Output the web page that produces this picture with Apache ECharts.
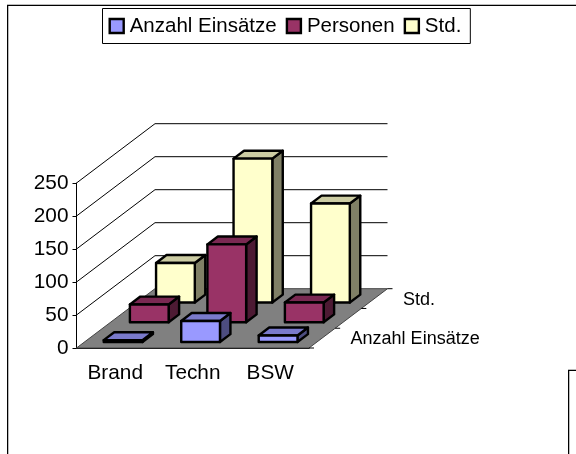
<!DOCTYPE html>
<html>
<head>
<meta charset="utf-8">
<style>
  html, body { margin: 0; padding: 0; background: #fff; }
  #chart { width: 576px; height: 454px; }
</style>
<script src="https://cdn.jsdelivr.net/npm/echarts@6/dist/echarts.min.js"></script>
</head>
<body>
<div id="chart"></div>
<script>
const categories = ['Brand', 'Techn', 'BSW']
const anzahlEinsaetze = [3, 32, 10]
const personen = [27, 118, 30]
const std = [60, 218, 150]
const gridValues = [50, 100, 150, 200, 250]
const depthLabels = ['Anzahl Einsätze', '', 'Std.']

const font = '"Liberation Sans", Arial, sans-serif'
// 3d look: how far the floor goes back on screen
const DEPTH_X = 78.5
const DEPTH_Y = 59.3
const SLOTS = 3

const chart = echarts.init(document.getElementById('chart'))

function line(x1, y1, x2, y2, color) {
  return {
    type: 'line',
    shape: { x1, y1, x2, y2 },
    style: { stroke: color || '#000', lineWidth: 1 }
  }
}

// floor, wall lines and depth axis
function renderBack(params, api) {
  if (params.dataIndex > 0) return null
  const children = []
  const left = api.coord([0, 0])[0] - api.size([1, 0])[0] / 2
  const right = left + api.size([1, 0])[0] * categories.length
  const base = api.coord([0, 0])[1]
  children.push({
    type: 'polygon',
    shape: {
      points: [
        [left, base],
        [right, base],
        [right + DEPTH_X, base - DEPTH_Y],
        [left + DEPTH_X, base - DEPTH_Y]
      ]
    },
    style: { fill: '#808080', stroke: '#444', lineWidth: 1 }
  })
  gridValues.forEach((v) => {
    const y = api.coord([0, v])[1]
    children.push(line(left, y, left + DEPTH_X, y - DEPTH_Y))
    children.push(line(left + DEPTH_X, y - DEPTH_Y, right + DEPTH_X, y - DEPTH_Y))
  })
  for (let i = 0; i <= SLOTS; i++) {
    const x = right + (DEPTH_X / SLOTS) * i
    const y = base - (DEPTH_Y / SLOTS) * i
    children.push(line(x, y, x + 5, y))
  }
  depthLabels.forEach((label, i) => {
    children.push({
      type: 'text',
      style: {
        x: right + (DEPTH_X / SLOTS) * (i + 0.5) + 28.5,
        y: base - (DEPTH_Y / SLOTS) * (i + 0.5) + 1,
        text: label,
        font: '18px ' + font,
        fill: '#000',
        verticalAlign: 'middle'
      }
    })
  })
  return { type: 'group', children }
}

// one box, slot = how far back the series sits
function renderBar(slot, front, top, side) {
  return function (params, api) {
    const band = api.size([1, 0])[0]
    const p0 = api.coord([api.value(0), 0])
    const p1 = api.coord([api.value(0), api.value(1)])
    const slotX = DEPTH_X / SLOTS
    const slotY = DEPTH_Y / SLOTS
    const w = band * 0.5
    const dx = slotX * 0.4
    const dy = slotY * 0.4
    const cx = p0[0] + slotX * (slot + 0.5) - dx / 2
    const by = p0[1] - slotY * (slot + 0.5) + dy / 2
    const ty = by - (p0[1] - p1[1])
    const x0 = cx - w / 2
    const x1 = cx + w / 2
    const stroke = { stroke: '#000', lineWidth: 2.4, lineJoin: 'round' }
    return {
      type: 'group',
      children: [
        {
          type: 'polygon',
          shape: { points: [[x1, by], [x1 + dx, by - dy], [x1 + dx, ty - dy], [x1, ty]] },
          style: { fill: side, ...stroke }
        },
        {
          type: 'polygon',
          shape: { points: [[x0, ty], [x1, ty], [x1 + dx, ty - dy], [x0 + dx, ty - dy]] },
          style: { fill: top, ...stroke }
        },
        {
          type: 'polygon',
          shape: { points: [[x0, by], [x1, by], [x1, ty], [x0, ty]] },
          style: { fill: front, ...stroke }
        }
      ]
    }
  }
}

function barSeries(name, values, slot, front, top, side) {
  return {
    name,
    type: 'custom',
    renderItem: renderBar(slot, front, top, side),
    itemStyle: { color: front },
    encode: { x: 0, y: 1 },
    data: values.map((v, i) => [i, v]),
    z: 5 - slot
  }
}

// thin black line + gray line of the sheet frames
function frame(x, y, w, h) {
  const rect = (rx, ry, rw, rh, fill) => ({
    type: 'rect',
    shape: { x: rx, y: ry, width: rw, height: rh },
    style: { fill },
    silent: true
  })
  return [
    rect(x, y - 1, w, 1, '#bbb'),
    rect(x, y, w, 1, '#000'),
    rect(x + 1, y + 1, 1, h, '#bbb'),
    rect(x, y, 1, h, '#000')
  ]
}

chart.setOption({
  animation: false,
  backgroundColor: '#fff',
  textStyle: { fontFamily: font },
  grid: { left: 76.5, top: 183, width: 232.5, height: 165 },
  legend: {
    data: ['Anzahl Einsätze', 'Personen', 'Std.'],
    left: 102.5,
    top: 8.5,
    width: 368,
    padding: [7, 9, 7, 6],
    itemGap: 9,
    itemWidth: 14,
    itemHeight: 14,
    icon: 'rect',
    itemStyle: { borderColor: '#000', borderWidth: 2.4 },
    selectedMode: false,
    borderColor: '#000',
    borderWidth: 1,
    backgroundColor: '#fff',
    textStyle: { fontFamily: font, fontSize: 20.5, color: '#000', padding: [0, 0, 0, 1] }
  },
  xAxis: {
    type: 'category',
    data: categories,
    axisLine: { lineStyle: { color: '#000', width: 1 } },
    axisTick: { length: 5, lineStyle: { color: '#000' } },
    axisLabel: { fontFamily: font, fontSize: 20.8, color: '#000', margin: 15 }
  },
  yAxis: {
    type: 'value',
    min: 0,
    max: 250,
    interval: 50,
    splitLine: { show: false },
    axisLine: { show: true, lineStyle: { color: '#000', width: 1 } },
    axisTick: { show: true, length: 4, lineStyle: { color: '#000' } },
    axisLabel: { fontFamily: font, fontSize: 20.8, color: '#000', margin: 8 }
  },
  series: [
    {
      name: 'back',
      type: 'custom',
      renderItem: renderBack,
      encode: { x: 0, y: 1 },
      data: [[0, 0]],
      z: 1
    },
    barSeries('Std.', std, 2, '#FFFFCC', '#CCCCA3', '#808066'),
    barSeries('Personen', personen, 1, '#993366', '#7A2952', '#4D1A33'),
    barSeries('Anzahl Einsätze', anzahlEinsaetze, 0, '#9999FF', '#7A7ACC', '#4D4D80')
  ],
  graphic: { elements: [...frame(7, 5, 569, 449), ...frame(568, 370, 8, 84)] }
})
</script>
</body>
</html>
